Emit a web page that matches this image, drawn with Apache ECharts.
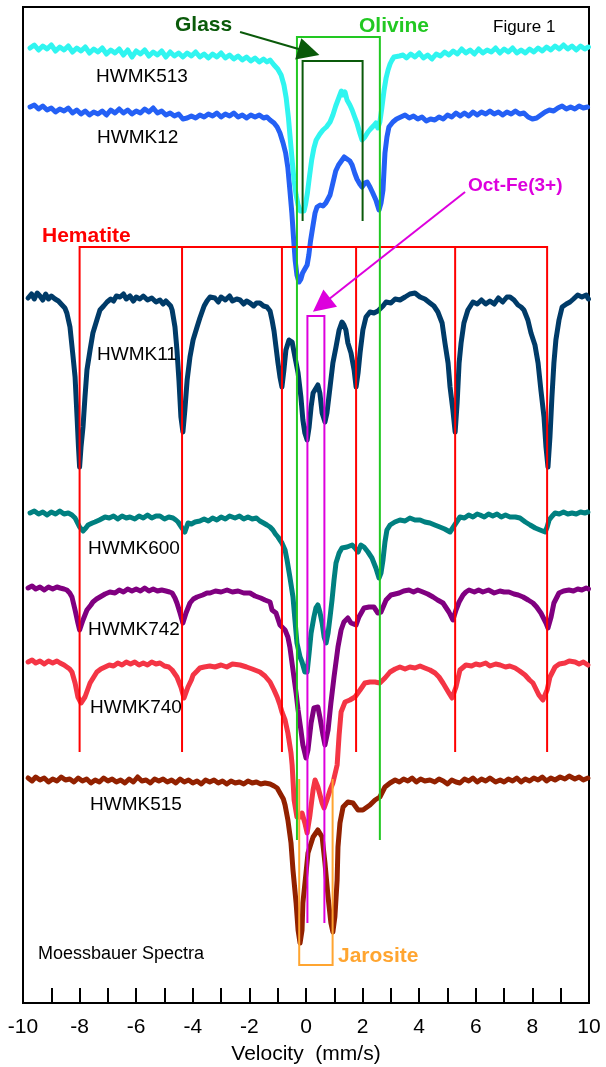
<!DOCTYPE html>
<html>
<head>
<meta charset="utf-8">
<script src="https://cdn.jsdelivr.net/npm/echarts@6/dist/echarts.min.js"></script>
<style>
  html, body { margin: 0; padding: 0; background: #fff; }
  #chart { width: 606px; height: 1067px; }
</style>
</head>
<body>
<div id="chart"></div>
<script>
// velocity (mm/s) vs stacked transmission (arbitrary units, offset per sample)
var tickLabels = [-10, -8, -6, -4, -2, 0, 2, 4, 6, 8, 10];

var hwmk513 = [[-9.75,955],[-9.6,958],[-9.45,953],[-9.3,957],[-9.15,954],[-9.0,958],[-8.85,952],[-8.7,956],[-8.55,953],[-8.4,957],[-8.25,951],[-8.1,955],[-7.95,952],[-7.8,956],[-7.65,950],[-7.5,954],[-7.35,951],[-7.2,955],[-7.05,949],[-6.9,953],[-6.75,950],[-6.6,954],[-6.45,948],[-6.3,953],[-6.15,946],[-6.0,952],[-5.85,949],[-5.7,953],[-5.55,947],[-5.4,951],[-5.25,948],[-5.1,952],[-4.95,946],[-4.8,951],[-4.65,947],[-4.5,950],[-4.35,946],[-4.2,950],[-4.05,947],[-3.9,951],[-3.75,946],[-3.6,949],[-3.45,945],[-3.3,949],[-3.15,946],[-3.0,950],[-2.85,945],[-2.7,948],[-2.55,944],[-2.4,947],[-2.25,943],[-2.1,946],[-1.95,942],[-1.8,945],[-1.65,941],[-1.5,944],[-1.38,941],[-1.27,943],[-1.13,938],[-1.0,934],[-0.88,928],[-0.78,918],[-0.7,905],[-0.62,885],[-0.55,862],[-0.48,840],[-0.42,822],[-0.35,808],[-0.28,798],[-0.2,792],[-0.14,790],[-0.07,792],[-0.02,798],[0.05,810],[0.12,826],[0.2,843],[0.28,855],[0.36,863],[0.49,869],[0.6,873],[0.72,876],[0.85,881],[0.95,888],[1.05,897],[1.17,906],[1.25,912],[1.31,908],[1.38,911],[1.45,903],[1.55,898],[1.63,893],[1.72,886],[1.8,880],[1.9,870],[1.98,863],[2.08,866],[2.19,871],[2.28,874],[2.38,877],[2.47,880],[2.54,875],[2.61,881],[2.68,895],[2.76,913],[2.83,925],[2.9,933],[2.97,939],[3.04,943],[3.11,946],[3.18,944],[3.3,947],[3.43,948],[3.55,945],[3.7,949],[3.85,946],[4.0,950],[4.15,945],[4.3,948],[4.45,944],[4.6,949],[4.75,947],[4.9,951],[5.05,948],[5.2,952],[5.35,949],[5.5,954],[5.65,950],[5.8,953],[5.95,949],[6.1,954],[6.25,950],[6.4,953],[6.55,951],[6.7,955],[6.85,950],[7.0,954],[7.15,951],[7.3,955],[7.45,950],[7.6,953],[7.75,950],[7.9,954],[8.05,951],[8.2,955],[8.35,952],[8.5,956],[8.65,953],[8.8,957],[8.95,954],[9.1,958],[9.25,954],[9.4,957],[9.55,953],[9.7,957],[9.85,954],[9.98,956]];

var hwmk12 = [[-9.75,896],[-9.6,898],[-9.45,894],[-9.3,897],[-9.15,893],[-9.0,895],[-8.85,891],[-8.7,894],[-8.55,892],[-8.4,895],[-8.25,890],[-8.1,893],[-7.95,889],[-7.8,892],[-7.65,888],[-7.5,891],[-7.35,889],[-7.2,892],[-7.05,888],[-6.9,893],[-6.75,890],[-6.6,894],[-6.45,890],[-6.3,893],[-6.15,889],[-6.0,892],[-5.85,890],[-5.7,894],[-5.55,891],[-5.4,895],[-5.25,890],[-5.1,892],[-4.95,888],[-4.8,890],[-4.65,887],[-4.5,889],[-4.35,884],[-4.2,885],[-4.05,887],[-3.9,885],[-3.75,888],[-3.6,886],[-3.45,889],[-3.3,887],[-3.15,890],[-3.0,886],[-2.85,889],[-2.7,887],[-2.55,890],[-2.4,886],[-2.25,888],[-2.1,885],[-1.95,888],[-1.8,886],[-1.65,888],[-1.5,885],[-1.38,886],[-1.27,883],[-1.13,880],[-1.02,876],[-0.92,870],[-0.81,860],[-0.72,850],[-0.64,835],[-0.57,813],[-0.5,790],[-0.44,765],[-0.38,742],[-0.32,728],[-0.25,721],[-0.18,724],[-0.12,730],[-0.04,734],[0.04,738],[0.1,748],[0.16,762],[0.25,778],[0.32,790],[0.39,796],[0.5,798],[0.6,797],[0.7,800],[0.85,808],[0.95,820],[1.05,832],[1.15,838],[1.25,842],[1.35,846],[1.45,844],[1.55,842],[1.63,838],[1.72,830],[1.8,824],[1.9,819],[1.98,816],[2.08,820],[2.16,821],[2.26,816],[2.36,810],[2.47,803],[2.58,793],[2.65,800],[2.72,813],[2.79,850],[2.86,866],[2.93,876],[3.07,881],[3.2,884],[3.35,886],[3.5,888],[3.65,885],[3.8,887],[3.95,884],[4.1,886],[4.25,882],[4.4,884],[4.55,883],[4.7,886],[4.85,884],[5.0,888],[5.15,886],[5.3,890],[5.45,887],[5.6,890],[5.75,887],[5.9,891],[6.05,888],[6.2,891],[6.35,889],[6.5,892],[6.65,889],[6.8,891],[6.95,888],[7.1,891],[7.25,889],[7.4,892],[7.55,889],[7.7,890],[7.85,886],[8.0,884],[8.15,885],[8.3,888],[8.45,891],[8.6,893],[8.75,892],[8.9,895],[9.05,897],[9.2,894],[9.35,896],[9.5,894],[9.65,897],[9.8,895],[9.95,896]];

var hwmk11 = [[-9.82,705],[-9.7,709],[-9.6,704],[-9.5,710],[-9.4,707],[-9.3,703],[-9.2,709],[-9.1,704],[-9.0,707],[-8.87,704],[-8.75,702],[-8.62,698],[-8.52,695],[-8.45,690],[-8.34,676],[-8.23,646],[-8.16,626],[-8.09,586],[-8.04,556],[-8.0,536],[-7.95,556],[-7.88,576],[-7.81,606],[-7.74,633],[-7.63,653],[-7.53,670],[-7.39,683],[-7.28,693],[-7.15,697],[-7.03,701],[-6.9,704],[-6.8,702],[-6.7,707],[-6.57,706],[-6.45,709],[-6.35,704],[-6.22,707],[-6.1,702],[-6.0,706],[-5.87,704],[-5.75,707],[-5.6,703],[-5.45,705],[-5.3,701],[-5.16,703],[-5.05,699],[-4.95,702],[-4.88,700],[-4.78,697],[-4.73,693],[-4.63,676],[-4.56,653],[-4.49,623],[-4.42,586],[-4.35,571],[-4.28,593],[-4.2,623],[-4.1,646],[-3.99,663],[-3.85,676],[-3.75,685],[-3.6,697],[-3.5,702],[-3.39,706],[-3.22,705],[-3.1,701],[-3.0,706],[-2.85,703],[-2.7,707],[-2.6,702],[-2.45,704],[-2.33,703],[-2.2,699],[-2.1,702],[-1.98,700],[-1.85,697],[-1.75,700],[-1.63,700],[-1.5,697],[-1.38,696],[-1.27,692],[-1.2,683],[-1.13,672],[-1.06,656],[-0.99,640],[-0.92,626],[-0.85,616],[-0.78,633],[-0.71,653],[-0.6,663],[-0.49,661],[-0.39,646],[-0.28,630],[-0.18,606],[-0.11,583],[-0.04,570],[0.04,563],[0.11,576],[0.18,596],[0.25,610],[0.42,618],[0.49,610],[0.57,590],[0.67,581],[0.74,590],[0.85,616],[0.95,640],[1.06,656],[1.17,673],[1.27,681],[1.34,678],[1.41,673],[1.48,660],[1.59,650],[1.7,633],[1.77,616],[1.84,630],[1.91,650],[2.01,673],[2.12,686],[2.26,691],[2.4,690],[2.54,692],[2.61,690],[2.72,697],[2.83,701],[3.0,700],[3.15,704],[3.32,703],[3.5,706],[3.67,709],[3.85,710],[4.03,706],[4.2,704],[4.38,700],[4.52,697],[4.66,691],[4.81,680],[4.91,660],[5.02,640],[5.09,616],[5.19,593],[5.27,571],[5.34,600],[5.41,640],[5.48,660],[5.58,680],[5.72,693],[5.9,701],[6.05,699],[6.2,703],[6.35,699],[6.5,702],[6.65,699],[6.8,705],[6.95,701],[7.1,706],[7.21,706],[7.35,703],[7.49,698],[7.6,696],[7.7,693],[7.84,683],[7.95,670],[8.09,658],[8.2,640],[8.3,613],[8.41,586],[8.48,556],[8.55,536],[8.62,566],[8.69,606],[8.76,640],[8.83,663],[8.94,683],[9.05,696],[9.2,699],[9.33,701],[9.45,704],[9.6,708],[9.75,706],[9.9,708],[9.98,704]];

var hwmk600 = [[-9.75,490],[-9.6,492],[-9.45,489],[-9.3,491],[-9.15,488],[-9.0,491],[-8.85,489],[-8.7,492],[-8.55,489],[-8.4,490],[-8.27,488],[-8.16,485],[-8.09,483],[-8.0,476],[-7.88,472],[-7.78,475],[-7.7,478],[-7.55,480],[-7.46,481],[-7.3,483],[-7.1,486],[-6.95,485],[-6.8,487],[-6.65,484],[-6.5,487],[-6.35,485],[-6.22,486],[-6.05,484],[-5.9,487],[-5.75,485],[-5.6,488],[-5.45,485],[-5.3,487],[-5.16,487],[-5.0,484],[-4.85,486],[-4.7,485],[-4.6,483],[-4.52,481],[-4.38,475],[-4.28,471],[-4.17,480],[-4.05,479],[-3.92,481],[-3.75,482],[-3.6,484],[-3.45,482],[-3.3,485],[-3.15,483],[-3.0,486],[-2.85,484],[-2.7,487],[-2.51,485],[-2.35,487],[-2.2,484],[-2.05,486],[-1.9,484],[-1.75,485],[-1.63,482],[-1.5,480],[-1.38,478],[-1.27,476],[-1.17,473],[-1.08,469],[-0.99,466],[-0.85,460],[-0.74,453],[-0.67,443],[-0.57,426],[-0.46,406],[-0.39,383],[-0.32,360],[-0.21,346],[-0.14,341],[-0.04,331],[0.04,331],[0.11,350],[0.18,370],[0.28,386],[0.35,395],[0.42,398],[0.49,391],[0.57,380],[0.64,366],[0.71,360],[0.78,370],[0.85,386],[0.92,403],[0.99,423],[1.06,440],[1.17,450],[1.27,455],[1.45,456],[1.63,458],[1.73,455],[1.84,451],[1.94,458],[2.05,456],[2.19,451],[2.33,445],[2.47,435],[2.58,425],[2.65,430],[2.72,443],[2.79,461],[2.86,473],[2.97,478],[3.14,481],[3.32,483],[3.5,482],[3.67,485],[3.85,483],[4.03,483],[4.2,481],[4.38,480],[4.55,478],[4.73,476],[4.9,474],[5.09,471],[5.16,470],[5.3,480],[5.44,486],[5.6,485],[5.75,488],[5.9,486],[6.05,489],[6.15,488],[6.3,486],[6.45,489],[6.6,487],[6.75,489],[6.9,486],[7.05,488],[7.21,486],[7.4,486],[7.56,485],[7.75,481],[7.92,478],[8.1,475],[8.27,473],[8.45,471],[8.52,476],[8.59,483],[8.7,487],[8.8,490],[8.95,489],[9.1,491],[9.25,489],[9.4,490],[9.55,489],[9.7,491],[9.85,490],[9.96,491]];

var hwmk742 = [[-9.82,415],[-9.68,417],[-9.55,414],[-9.4,416],[-9.25,413],[-9.1,416],[-8.95,414],[-8.8,416],[-8.69,415],[-8.55,414],[-8.45,413],[-8.35,410],[-8.27,406],[-8.16,393],[-8.06,380],[-8.0,373],[-7.94,378],[-7.88,383],[-7.74,393],[-7.6,398],[-7.53,401],[-7.4,404],[-7.28,406],[-7.1,409],[-6.93,411],[-6.75,410],[-6.6,413],[-6.45,411],[-6.3,414],[-6.15,412],[-6.0,414],[-5.85,412],[-5.7,415],[-5.55,412],[-5.4,414],[-5.25,412],[-5.1,413],[-4.95,412],[-4.82,411],[-4.73,410],[-4.63,405],[-4.56,400],[-4.45,390],[-4.35,380],[-4.24,390],[-4.1,400],[-3.98,404],[-3.85,406],[-3.65,408],[-3.5,410],[-3.39,410],[-3.2,412],[-3.0,411],[-2.79,413],[-2.6,411],[-2.4,412],[-2.2,410],[-1.98,410],[-1.8,407],[-1.6,405],[-1.45,403],[-1.27,401],[-1.2,393],[-1.06,390],[-0.92,378],[-0.74,373],[-0.64,366],[-0.57,356],[-0.46,333],[-0.35,310],[-0.28,293],[-0.18,273],[-0.11,258],[0.0,245],[0.07,253],[0.18,280],[0.28,295],[0.42,296],[0.49,286],[0.6,268],[0.67,258],[0.78,273],[0.88,300],[0.99,326],[1.13,356],[1.24,373],[1.34,381],[1.48,385],[1.59,380],[1.77,378],[1.87,386],[2.05,395],[2.23,396],[2.4,396],[2.54,390],[2.65,391],[2.83,403],[3.0,408],[3.15,409],[3.29,410],[3.45,412],[3.64,413],[3.8,411],[3.95,413],[4.13,411],[4.3,409],[4.49,406],[4.65,403],[4.84,400],[5.05,391],[5.19,383],[5.3,393],[5.41,401],[5.55,408],[5.65,411],[5.76,413],[5.95,411],[6.1,413],[6.25,411],[6.45,413],[6.65,410],[6.85,412],[7.0,411],[7.17,411],[7.35,409],[7.5,408],[7.67,406],[7.85,403],[8.02,400],[8.15,396],[8.3,390],[8.48,380],[8.55,375],[8.66,386],[8.76,400],[8.94,410],[9.1,412],[9.29,413],[9.45,412],[9.6,414],[9.75,413],[9.9,415],[9.98,414]];

var hwmk740 = [[-9.82,341],[-9.68,343],[-9.55,340],[-9.4,342],[-9.25,339],[-9.1,342],[-8.95,340],[-8.8,342],[-8.69,340],[-8.55,338],[-8.45,336],[-8.35,334],[-8.27,331],[-8.16,320],[-8.06,306],[-7.95,300],[-7.81,306],[-7.72,313],[-7.63,320],[-7.5,326],[-7.39,331],[-7.25,334],[-7.1,336],[-6.95,338],[-6.8,337],[-6.65,340],[-6.5,338],[-6.35,341],[-6.2,339],[-6.05,341],[-5.9,338],[-5.75,340],[-5.6,338],[-5.45,341],[-5.3,339],[-5.16,340],[-5.0,337],[-4.85,336],[-4.73,333],[-4.56,326],[-4.42,316],[-4.31,305],[-4.17,316],[-4.05,323],[-3.99,328],[-3.85,332],[-3.75,335],[-3.6,336],[-3.4,337],[-3.22,336],[-3.0,338],[-2.8,336],[-2.6,339],[-2.33,338],[-2.1,336],[-1.9,334],[-1.63,331],[-1.45,327],[-1.27,321],[-1.13,313],[-1.02,306],[-0.92,298],[-0.85,291],[-0.74,283],[-0.64,270],[-0.53,250],[-0.49,238],[-0.46,223],[-0.42,203],[-0.32,186],[-0.21,186],[-0.14,190],[-0.04,180],[0.04,170],[0.14,188],[0.25,213],[0.32,223],[0.42,216],[0.57,200],[0.64,195],[0.74,203],[0.85,213],[0.95,220],[1.1,238],[1.17,268],[1.24,291],[1.38,301],[1.55,303],[1.73,306],[1.91,313],[2.08,320],[2.26,321],[2.44,321],[2.61,320],[2.79,325],[2.97,331],[3.15,334],[3.32,336],[3.5,334],[3.67,336],[3.85,335],[4.03,337],[4.2,335],[4.38,333],[4.56,330],[4.7,326],[4.84,320],[5.05,310],[5.16,305],[5.3,316],[5.44,333],[5.65,338],[5.85,337],[6.0,339],[6.15,338],[6.35,340],[6.5,337],[6.7,339],[6.86,338],[7.05,336],[7.2,337],[7.39,335],[7.55,332],[7.74,328],[7.9,323],[8.02,320],[8.23,308],[8.37,303],[8.52,313],[8.62,326],[8.8,336],[8.95,339],[9.15,340],[9.3,342],[9.51,341],[9.65,339],[9.8,341],[9.96,338]];

var hwmk515 = [[-9.82,225],[-9.68,222],[-9.55,226],[-9.4,223],[-9.25,225],[-9.1,221],[-8.95,224],[-8.8,222],[-8.65,226],[-8.5,223],[-8.35,224],[-8.2,221],[-8.05,225],[-7.9,222],[-7.75,224],[-7.6,220],[-7.45,223],[-7.3,221],[-7.15,225],[-7.0,222],[-6.85,224],[-6.7,221],[-6.55,223],[-6.4,220],[-6.25,224],[-6.1,221],[-5.95,226],[-5.8,222],[-5.65,223],[-5.5,220],[-5.35,224],[-5.2,222],[-5.05,224],[-4.9,221],[-4.75,223],[-4.6,220],[-4.45,224],[-4.3,221],[-4.15,223],[-4.0,220],[-3.85,222],[-3.7,219],[-3.55,223],[-3.4,221],[-3.25,223],[-3.1,220],[-2.95,222],[-2.8,219],[-2.65,222],[-2.5,220],[-2.35,221],[-2.2,219],[-2.05,222],[-1.9,220],[-1.75,221],[-1.6,219],[-1.45,220],[-1.27,219],[-1.13,217],[-1.02,215],[-0.92,210],[-0.8,204],[-0.74,198],[-0.64,183],[-0.53,160],[-0.46,133],[-0.35,100],[-0.28,73],[-0.21,60],[-0.14,73],[-0.11,100],[0.0,130],[0.07,150],[0.25,166],[0.42,173],[0.57,166],[0.67,140],[0.78,106],[0.88,80],[0.95,71],[1.02,86],[1.1,123],[1.13,156],[1.2,180],[1.31,196],[1.48,201],[1.66,200],[1.84,193],[2.01,193],[2.26,198],[2.44,203],[2.61,206],[2.79,216],[2.97,220],[3.15,223],[3.3,221],[3.45,224],[3.6,222],[3.75,225],[3.9,221],[4.05,224],[4.2,222],[4.38,223],[4.55,221],[4.7,224],[4.85,222],[5.0,219],[5.15,223],[5.3,221],[5.44,220],[5.6,224],[5.75,222],[5.9,225],[6.05,221],[6.2,224],[6.35,222],[6.5,225],[6.7,221],[6.86,223],[7.0,221],[7.15,224],[7.3,222],[7.45,225],[7.6,221],[7.75,224],[7.9,222],[8.05,225],[8.2,223],[8.35,226],[8.5,222],[8.65,225],[8.8,223],[8.98,226],[9.15,224],[9.3,227],[9.5,224],[9.65,226],[9.8,223],[9.96,225]];

// stick diagrams: line positions (mm/s) and vertical extent
var hematiteLines = [-8.0, -4.38, -0.85, 1.77, 5.27, 8.52];
var olivineLines = [-0.32, 2.61];
var glassLines = [-0.12, 2.0];
var octFeLines = [0.05, 0.65];
var jarositeLines = [-0.24, 0.94];
var stickRange = {
  hematite: [251, 756],
  olivine: [163, 966],
  glass: [782, 942],
  octFe: [80, 687],
  jarosite: [38, 224]
};

var FONT = '"Liberation Sans", Arial, sans-serif';

function bracketTop(pos, r) {
  var a = pos[0], b = pos[pos.length - 1];
  var out = [{ coords: [[a, r[0]], [a, r[1]], [b, r[1]], [b, r[0]]] }];
  for (var i = 1; i < pos.length - 1; i++) {
    out.push({ coords: [[pos[i], r[1]], [pos[i], r[0]]] });
  }
  return out;
}
function bracketBottom(pos, r) {
  var a = pos[0], b = pos[pos.length - 1];
  return [{ coords: [[a, r[1]], [a, r[0]], [b, r[0]], [b, r[1]]] }];
}

function spectrum(data, color) {
  return {
    type: 'line', data: data, showSymbol: false, symbol: 'none',
    lineStyle: { width: 5, color: color, join: 'round', cap: 'round' }, itemStyle: { color: color },
    z: 2, silent: true
  };
}
function sticks(data, color) {
  return {
    type: 'lines', coordinateSystem: 'cartesian2d', polyline: true, data: data,
    lineStyle: { color: color, width: 2, opacity: 1 }, z: 5, silent: true
  };
}
function arrow(from, to, color, size) {
  return {
    type: 'lines', coordinateSystem: 'cartesian2d', data: [{ coords: [from, to] }],
    symbol: ['none', 'triangle'], symbolSize: size,
    lineStyle: { color: color, width: 2, opacity: 1 }, z: 6, silent: true
  };
}

var notes = [
  { t: 'Glass', x: 175, y: 15, c: '#0A5A0A', f: 'bold 21px ' + FONT },
  { t: 'Olivine', x: 359, y: 16, c: '#22C822', f: 'bold 21px ' + FONT },
  { t: 'Figure 1', x: 493, y: 19, c: '#000', f: '17px ' + FONT },
  { t: 'HWMK513', x: 96, y: 67, c: '#000', f: '19px ' + FONT },
  { t: 'HWMK12', x: 97, y: 128, c: '#000', f: '19px ' + FONT },
  { t: 'HWMK11', x: 97, y: 345, c: '#000', f: '19px ' + FONT },
  { t: 'HWMK600', x: 88, y: 539, c: '#000', f: '19px ' + FONT },
  { t: 'HWMK742', x: 88, y: 620, c: '#000', f: '19px ' + FONT },
  { t: 'HWMK740', x: 90, y: 698, c: '#000', f: '19px ' + FONT },
  { t: 'HWMK515', x: 90, y: 795, c: '#000', f: '19px ' + FONT },
  { t: 'Hematite', x: 42, y: 226, c: '#FF0000', f: 'bold 21px ' + FONT },
  { t: 'Oct-Fe(3+)', x: 468, y: 176, c: '#DD00DD', f: 'bold 19px ' + FONT },
  { t: 'Jarosite', x: 338, y: 946, c: '#FFA530', f: 'bold 21px ' + FONT },
  { t: 'Moessbauer Spectra', x: 38, y: 945, c: '#000', f: '18px ' + FONT }
];

var option = {
  animation: false,
  backgroundColor: '#fff',
  grid: {
    left: 23, right: 17, top: 7, bottom: 64,
    show: true, borderColor: '#000', borderWidth: 2,
    containLabel: false, outerBoundsMode: 'none'
  },
  xAxis: {
    type: 'value', min: -10, max: 10, interval: 1,
    axisLine: { onZero: false, lineStyle: { color: '#000', width: 2 } },
    axisTick: { inside: true, length: 15, lineStyle: { color: '#000', width: 2 } },
    axisLabel: {
      color: '#000', fontSize: 21, fontFamily: FONT, margin: 14,
      formatter: function (v) { return tickLabels.indexOf(v) >= 0 ? String(v) : ''; }
    },
    splitLine: { show: false },
    name: 'Velocity  (mm/s)', nameLocation: 'middle', nameGap: 41,
    nameTextStyle: { color: '#000', fontSize: 21, fontFamily: FONT }
  },
  yAxis: { type: 'value', min: 0, max: 996, show: false, splitLine: { show: false } },
  series: [
    spectrum(hwmk515, '#922100'),
    spectrum(hwmk740, '#F43545'),
    spectrum(hwmk742, '#800080'),
    spectrum(hwmk600, '#008080'),
    spectrum(hwmk11, '#003B68'),
    spectrum(hwmk12, '#2460F5'),
    spectrum(hwmk513, '#30F5F0'),
    sticks(bracketTop(hematiteLines, stickRange.hematite), '#FF0000'),
    sticks(bracketTop(olivineLines, stickRange.olivine), '#22C822'),
    sticks(bracketTop(glassLines, stickRange.glass), '#0A5A0A'),
    sticks(bracketTop(octFeLines, stickRange.octFe), '#DD00DD'),
    sticks(bracketBottom(jarositeLines, stickRange.jarosite), '#FFA530'),
    arrow([-2.33, 971], [0.1, 951], '#0A5A0A', [0, 22]),
    arrow([5.62, 811], [0.55, 698], '#DD00DD', [0, 22])
  ],
  graphic: notes.map(function (n) {
    return {
      type: 'text', left: n.x, top: n.y, silent: true, z: 10,
      style: { text: n.t, fill: n.c, font: n.f }
    };
  })
};

var chart = echarts.init(document.getElementById('chart'), null, { renderer: 'canvas' });
chart.setOption(option);
</script>
</body>
</html>
